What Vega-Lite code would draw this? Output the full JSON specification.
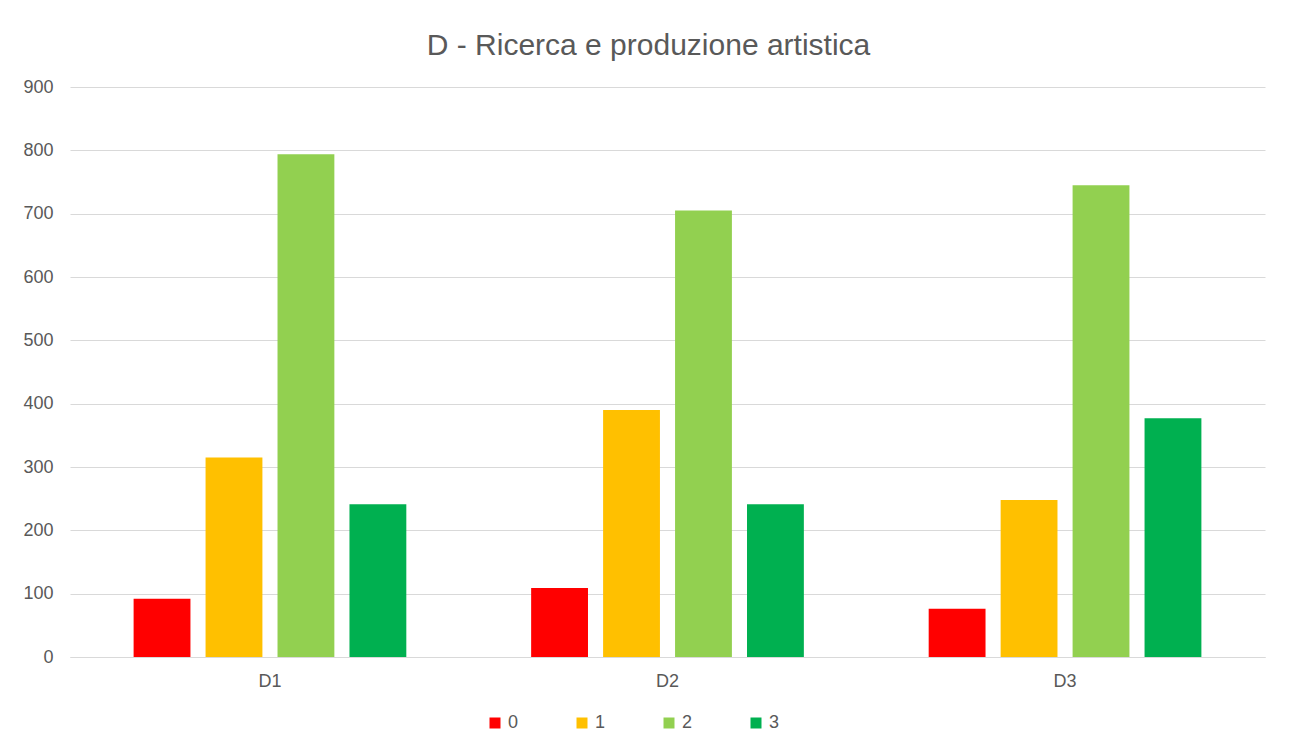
{
  "$schema": "https://vega.github.io/schema/vega-lite/v6.json",
  "autosize": "none",
  "width": 1195,
  "height": 570,
  "padding": {"left": 70, "top": 87, "right": 24, "bottom": 92},
  "background": "white",
  "title": {
    "text": "D - Ricerca e produzione artistica",
    "fontSize": 30,
    "font": "Liberation Sans",
    "fontWeight": "normal",
    "color": "#595959",
    "anchor": "middle",
    "dx": -19,
    "offset": 17
  },
  "data": {
    "values": [
      {"categoria": "D1", "livello": "0", "valore": 92},
      {"categoria": "D1", "livello": "1", "valore": 315},
      {"categoria": "D1", "livello": "2", "valore": 794},
      {"categoria": "D1", "livello": "3", "valore": 241},
      {"categoria": "D2", "livello": "0", "valore": 109},
      {"categoria": "D2", "livello": "1", "valore": 390},
      {"categoria": "D2", "livello": "2", "valore": 705},
      {"categoria": "D2", "livello": "3", "valore": 241},
      {"categoria": "D3", "livello": "0", "valore": 76},
      {"categoria": "D3", "livello": "1", "valore": 248},
      {"categoria": "D3", "livello": "2", "valore": 745},
      {"categoria": "D3", "livello": "3", "valore": 377}
    ]
  },
  "mark": {"type": "bar"},
  "encoding": {
    "x": {
      "field": "categoria",
      "type": "nominal",
      "scale": {"paddingInner": 0.314, "paddingOuter": 0.16},
      "axis": {
        "title": null,
        "labelAngle": 0,
        "ticks": false,
        "domain": true,
        "domainColor": "#d9d9d9",
        "domainWidth": 1,
        "labelPadding": 15,
        "labelFontSize": 18,
        "labelFont": "Liberation Sans",
        "labelColor": "#595959"
      }
    },
    "xOffset": {
      "field": "livello",
      "type": "nominal",
      "scale": {"paddingInner": 0.21, "paddingOuter": 0}
    },
    "y": {
      "field": "valore",
      "type": "quantitative",
      "scale": {"domain": [0, 900], "nice": false},
      "axis": {
        "title": null,
        "values": [0, 100, 200, 300, 400, 500, 600, 700, 800, 900],
        "domain": false,
        "ticks": false,
        "labelPadding": 17,
        "labelFontSize": 18,
        "labelFont": "Liberation Sans",
        "labelColor": "#595959",
        "gridColor": "#d9d9d9",
        "gridWidth": 1
      }
    },
    "color": {
      "field": "livello",
      "type": "nominal",
      "scale": {
        "domain": ["0", "1", "2", "3"],
        "range": ["#FF0000", "#FFC000", "#92D050", "#00B050"]
      },
      "legend": {
        "title": null,
        "orient": "none",
        "direction": "horizontal",
        "legendX": 416,
        "legendY": 627,
        "symbolType": "square",
        "symbolSize": 121,
        "symbolStrokeWidth": 0,
        "symbolOpacity": 1,
        "labelFontSize": 18,
        "labelFont": "Liberation Sans",
        "labelColor": "#595959",
        "labelOffset": 4,
        "columnPadding": 54
      }
    }
  },
  "config": {
    "view": {"stroke": null}
  }
}
